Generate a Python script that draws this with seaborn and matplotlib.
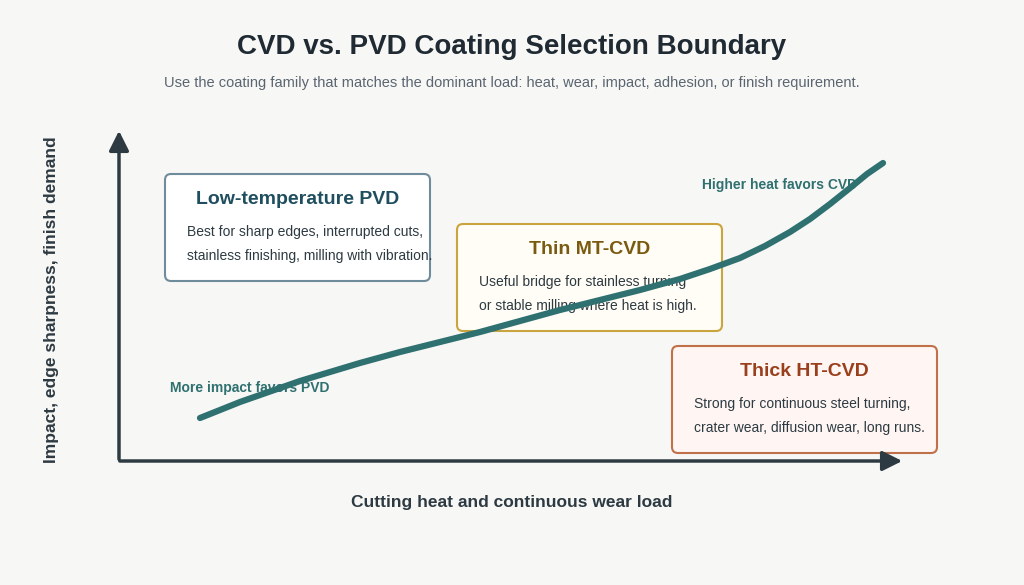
import numpy as np
import matplotlib.pyplot as plt
import seaborn as sns
from matplotlib.patches import FancyBboxPatch

sns.set_theme(style="white")
plt.rcParams['font.family'] = ['Liberation Sans', 'DejaVu Sans']

# boundary curve (pixel space)
curve_x = [200, 220, 240, 260, 280, 300, 330, 360, 400, 440, 480, 520, 560, 600, 640, 680,
           710, 740, 765, 790, 810, 830, 850, 867, 883]
curve_y = [418, 410, 402, 395, 388, 381, 372, 363, 352, 342, 332, 321, 310, 300, 290, 279,
           269, 258, 246, 232, 219, 204, 188, 174, 163]

zones = ["Low-temperature PVD", "Thin MT-CVD", "Thick HT-CVD"]
zone_notes = [
    "Best for sharp edges, interrupted cuts,\nstainless finishing, milling with vibration.",
    "Useful bridge for stainless turning\nor stable milling where heat is high.",
    "Strong for continuous steel turning,\ncrater wear, diffusion wear, long runs.",
]
zone_boxes = [(165, 174, 265, 107), (457, 224, 265, 107), (672, 346, 265, 107)]
zone_edge = ["#6f8c9c", "#c9a43f", "#c0714a"]
zone_face = ["#ffffff", "#fffdf5", "#fff6f3"]
zone_title = ["#1f4e5f", "#7a5a10", "#9a3f1c"]

bg = "#f7f7f5"
fig = plt.figure(figsize=(10.24, 5.85), dpi=100, facecolor=bg)
ax = fig.add_axes([0, 0, 1, 1])
ax.set_facecolor(bg)
ax.set_xlim(0, 1024)
ax.set_ylim(585, 0)
ax.axis("off")

ax.text(512, 47, "CVD vs. PVD Coating Selection Boundary", ha="center", va="center",
        fontsize=20, fontweight="bold", color="#1f2a33")
ax.text(512, 83, "Use the coating family that matches the dominant load: heat, wear, impact, adhesion, or finish requirement.",
        ha="center", va="center", fontsize=10.5, color="#5a6570")

# axes arrows
axc = "#2d3a42"
ax.annotate("", xy=(119, 128), xytext=(119, 462),
            arrowprops=dict(arrowstyle="-|>,head_width=0.5,head_length=1.0", color=axc, lw=2.5))
ax.annotate("", xy=(905, 461), xytext=(117, 461),
            arrowprops=dict(arrowstyle="-|>,head_width=0.5,head_length=1.0", color=axc, lw=2.5))
ax.text(512, 503, "Cutting heat and continuous wear load", ha="center", va="center",
        fontsize=12.5, fontweight="bold", color="#2d3a42")
ax.text(52, 300, "Impact, edge sharpness, finish demand", ha="center", va="center", rotation=90,
        fontsize=12.5, fontweight="bold", color="#2d3a42")

for (x, y, w, h), t, n, ec, fc, tc in zip(zone_boxes, zones, zone_notes, zone_edge, zone_face, zone_title):
    ax.add_patch(FancyBboxPatch((x, y), w, h, boxstyle="round,pad=0,rounding_size=6",
                                fc=fc, ec=ec, lw=1.5))
    ax.text(x + w / 2, y + 26, t, ha="center", va="center", fontsize=14, fontweight="bold", color=tc)
    ax.text(x + 22, y + 70, n, ha="left", va="center", fontsize=10, color="#2d3a42", linespacing=1.9)

sns.lineplot(x=curve_x, y=curve_y, ax=ax, color="#2f7070", lw=4.5, sort=False,
             solid_capstyle="round", solid_joinstyle="round", zorder=5)

ax.text(170, 388, "More impact favors PVD", ha="left", va="center", fontsize=10,
        fontweight="bold", color="#2f7070", zorder=4)
ax.text(702, 185, "Higher heat favors CVD", ha="left", va="center", fontsize=10,
        fontweight="bold", color="#2f7070", zorder=4)

fig.savefig("out.png", dpi=100, facecolor=bg)
